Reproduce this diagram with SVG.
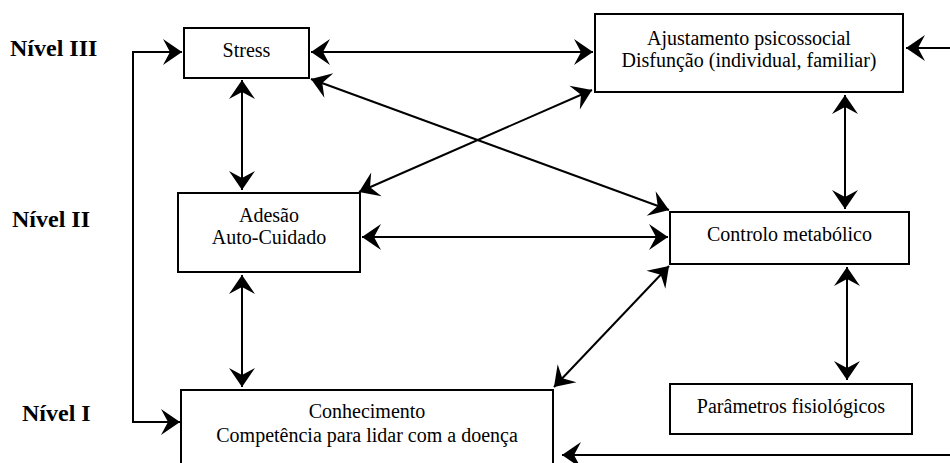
<svg xmlns="http://www.w3.org/2000/svg" width="950" height="463" viewBox="0 0 950 463">
<style>
text{font-family:'Liberation Serif','Times New Roman',Times,'DejaVu Serif',serif}
.box{fill:#fff;stroke:#000;stroke-width:2}
.t{font-size:20px;fill:#000;text-anchor:middle}
.lv{font-size:24px;font-weight:bold;fill:#000}
.c{fill:none;stroke:#000;stroke-width:2}
.a2{marker-start:url(#ah);marker-end:url(#ah)}
.a1{marker-end:url(#ah)}
</style>
<defs>
<marker id="ah" markerUnits="userSpaceOnUse" viewBox="-20 -14 22 28" refX="0" refY="0" markerWidth="22" markerHeight="28" orient="auto-start-reverse">
<path d="M0,0 L-19,-13 L-12,0 L-19,13 Z" fill="#000"/>
</marker>
</defs>
<rect width="950" height="463" fill="#fff"/>
<g id="labels">
<text class="lv" x="10" y="56" font-family="Liberation Serif, serif">Nível III</text>
<text class="lv" x="12" y="227" font-family="Liberation Serif, serif">Nível II</text>
<text class="lv" x="22" y="421" font-family="Liberation Serif, serif">Nível I</text>
</g>
<g id="connectors">
<path class="c a2" d="M180,422 H133 V52 H182"/>
<path class="c a2" d="M242,80 V190"/>
<path class="c a2" d="M242,275 V387"/>
<path class="c a2" d="M311,52 H593"/>
<path class="c a1" d="M950,48 H906"/>
<path class="c a2" d="M845,95 V209"/>
<path class="c a2" d="M311,79 L669,210"/>
<path class="c a2" d="M592,90 L359,192"/>
<path class="c a2" d="M362,237 H668"/>
<path class="c a2" d="M669,266 L554,387"/>
<path class="c a2" d="M847,267 V380"/>
<path class="c a1" d="M950,455 H562"/>
</g>
<g id="stress">
<rect class="box" x="184" y="28" width="125" height="50"/>
<text class="t" x="246.5" y="57">Stress</text>
</g>
<g id="ajustamento">
<rect class="box" x="595" y="14" width="308" height="78"/>
<text class="t" x="749" y="45">Ajustamento psicossocial</text>
<text class="t" x="749" y="67">Disfunção (individual, familiar)</text>
</g>
<g id="adesao">
<rect class="box" x="178" y="193" width="182" height="79"/>
<text class="t" x="269" y="222">Adesão</text>
<text class="t" x="269" y="244">Auto-Cuidado</text>
</g>
<g id="controlo">
<rect class="box" x="670" y="212" width="239" height="52"/>
<text class="t" x="789.5" y="241">Controlo metabólico</text>
</g>
<g id="parametros">
<rect class="box" x="670" y="384" width="242" height="50"/>
<text class="t" x="791" y="413">Parâmetros fisiológicos</text>
</g>
<g id="conhecimento">
<rect class="box" x="181" y="390" width="372" height="82"/>
<text class="t" x="367" y="418">Conhecimento</text>
<text class="t" x="367" y="442">Competência para lidar com a doença</text>
</g>
</svg>
